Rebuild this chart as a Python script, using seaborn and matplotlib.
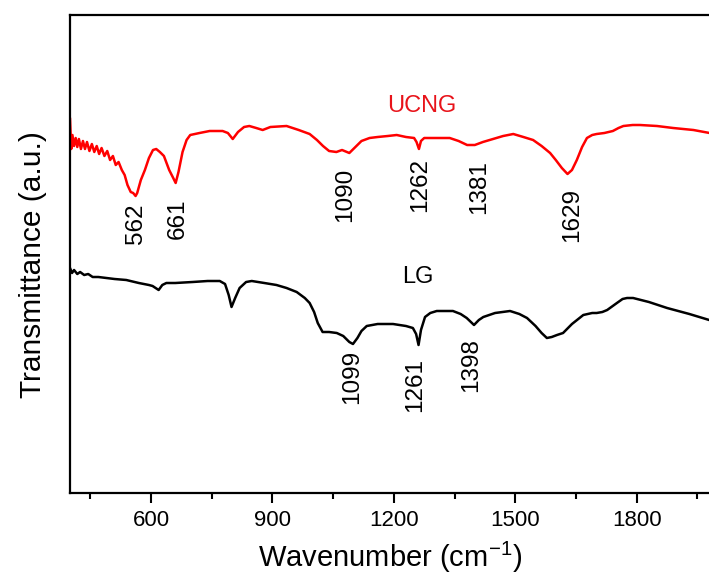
import numpy as np
import pandas as pd
import matplotlib
matplotlib.use("Agg")
import matplotlib.pyplot as plt
from matplotlib.ticker import MultipleLocator, NullLocator
import seaborn as sns

# ---------------- data ----------------
ucng_wn = [400, 403, 406, 410, 414, 418, 422, 427, 432, 437, 442, 448, 454, 460,
           466, 472, 478, 485, 492, 499, 506, 513, 520, 528, 535, 542, 550, 556,
           562, 566, 575, 585, 595, 605, 613, 622, 632, 645, 655, 661, 668, 678,
           688, 697, 720, 745, 777, 790, 802, 815, 830, 843, 860, 876, 895, 935,
           965, 992, 1010, 1025, 1040, 1058, 1072, 1090, 1105, 1120, 1140, 1160,
           1185, 1207, 1230, 1250, 1256, 1262, 1267, 1275, 1300, 1338, 1360, 1381,
           1400, 1420, 1445, 1470, 1495, 1520, 1544, 1565, 1586, 1600, 1615, 1629,
           1640, 1652, 1665, 1677, 1690, 1701, 1720, 1741, 1755, 1767, 1790, 1808,
           1850, 1890, 1940, 1980, 2000]
ucng_t = [375, 344, 358, 347, 355, 346, 354, 344, 352, 344, 351, 342, 349, 341,
          347, 339, 345, 337, 342, 333, 337, 328, 331, 323, 318, 308, 301, 300,
          297, 300, 313, 323, 335, 343, 344, 341, 337, 323, 315, 310, 321, 341,
          353, 358, 360, 362, 362, 360, 354, 361, 366, 367, 365, 363, 366, 367,
          363, 359, 353, 347, 342, 341, 343, 340, 346, 352, 355, 356,
          357, 358, 356, 355, 351, 344, 352, 355, 355, 355, 352, 348,
          348, 351, 354, 357, 359, 356, 353, 347, 340, 333, 325, 319,
          323, 333, 346, 355, 358, 359, 360, 362, 365, 367, 368, 368,
          367, 365, 363, 360, 359]

lg_wn = [400, 405, 410, 418, 425, 435, 445, 456, 470, 490, 510, 539, 570, 595,
         604, 619, 628, 638, 660, 703, 740, 770, 783, 792, 799, 808, 819, 835,
         849, 880, 910, 935, 960, 980, 992, 1003, 1012, 1024, 1040, 1059, 1075,
         1090, 1099, 1110, 1120, 1133, 1160, 1198, 1230, 1247, 1255, 1261, 1267,
         1277, 1290, 1306, 1346, 1365, 1380, 1398, 1410, 1421, 1450, 1487, 1510,
         1529, 1550, 1565, 1578, 1590, 1603, 1618, 1640, 1668, 1690, 1701, 1715,
         1727, 1751, 1765, 1776, 1791, 1830, 1875, 1930, 1979, 2000]
lg_t = [225, 220, 223, 219, 221, 218, 219, 216, 216, 215, 214, 213, 210, 208,
        207, 203, 208, 210, 210, 211, 212, 212, 209, 198, 186, 195, 205, 211,
        212, 210, 208, 205, 201, 195, 190, 181, 170, 161, 161, 160, 157,
        151, 149, 155, 162, 167, 169, 169, 167, 165, 159, 148, 163,
        176, 180, 182, 182, 179, 175, 168, 173, 176, 180, 182, 179,
        175, 167, 160, 155, 156, 158, 160, 169, 178, 180, 180, 181,
        183, 190, 194, 195, 195, 191, 185, 179, 173, 170]

ucng_peaks = ["562", "661", "1090", "1262", "1381", "1629"]
ucng_peak_x = [562, 666, 1079, 1264, 1410, 1640]
ucng_peak_top = [290, 295, 325, 335, 333, 305]

lg_peaks = ["1099", "1261", "1398"]
lg_peak_x = [1096, 1252, 1390]
lg_peak_top = [143, 135, 155]

series_names = ["UCNG", "LG"]
series_colors = ["#ff0000", "#000000"]

x_ticks = [600, 900, 1200, 1500, 1800]

# ---------------- style ----------------
sns.set_style("white")
plt.rcParams["font.family"] = ["Liberation Sans", "DejaVu Sans"]
plt.rcParams["mathtext.default"] = "regular"
plt.rcParams["text.color"] = "black"
plt.rcParams["axes.labelcolor"] = "black"
plt.rcParams["xtick.color"] = "black"

W, H = 709, 578
fig = plt.figure(figsize=(W / 100, H / 100), dpi=100)
ax = fig.add_axes([70 / W, (H - 493) / H, 647.7 / W, 478 / H])

df_u = pd.DataFrame({"wn": ucng_wn, "t": ucng_t})
df_l = pd.DataFrame({"wn": lg_wn, "t": lg_t})
sns.lineplot(data=df_u, x="wn", y="t", color=series_colors[0], lw=1.8, ax=ax,
             sort=False, estimator=None)
sns.lineplot(data=df_l, x="wn", y="t", color=series_colors[1], lw=1.8, ax=ax,
             sort=False, estimator=None)

ax.set_xlim(400, 2000)
ax.set_ylim(0, 478)
ax.set_xlabel("")
ax.set_ylabel("")

for s in ax.spines.values():
    s.set_linewidth(1.6)
    s.set_color("black")

ax.xaxis.set_major_locator(MultipleLocator(300))
ax.xaxis.set_minor_locator(MultipleLocator(150))
ax.yaxis.set_major_locator(NullLocator())
ax.tick_params(axis="x", which="major", direction="out", length=7, width=1.5,
               labelsize=16, pad=5, bottom=True, colors="black")
ax.tick_params(axis="x", which="minor", direction="out", length=4.5, width=1.5,
               bottom=True)
ax.set_xticks(x_ticks)

for lab, xv, yv in zip(ucng_peaks, ucng_peak_x, ucng_peak_top):
    ax.text(xv, yv, lab, rotation=90, ha="center", va="top", fontsize=17.5,
            color="black")
for lab, xv, yv in zip(lg_peaks, lg_peak_x, lg_peak_top):
    ax.text(xv, yv, lab, rotation=90, ha="center", va="top", fontsize=17.5,
            color="black")

ax.text(1268, 387, series_names[0], ha="center", va="center", fontsize=17,
        color="#e8131a")
ax.text(1258, 216, series_names[1], ha="center", va="center", fontsize=17,
        color="black")

fig.text(390 / W, 1 - 557 / H, "Wavenumber (cm$^{-1}$)", ha="center",
         va="center", fontsize=21, color="black")
fig.text(33 / W, 1 - 265 / H, "Transmittance (a.u.)", rotation=90,
         ha="center", va="center", fontsize=21.5, color="black")

fig.savefig("out.png", dpi=100, facecolor="white")
